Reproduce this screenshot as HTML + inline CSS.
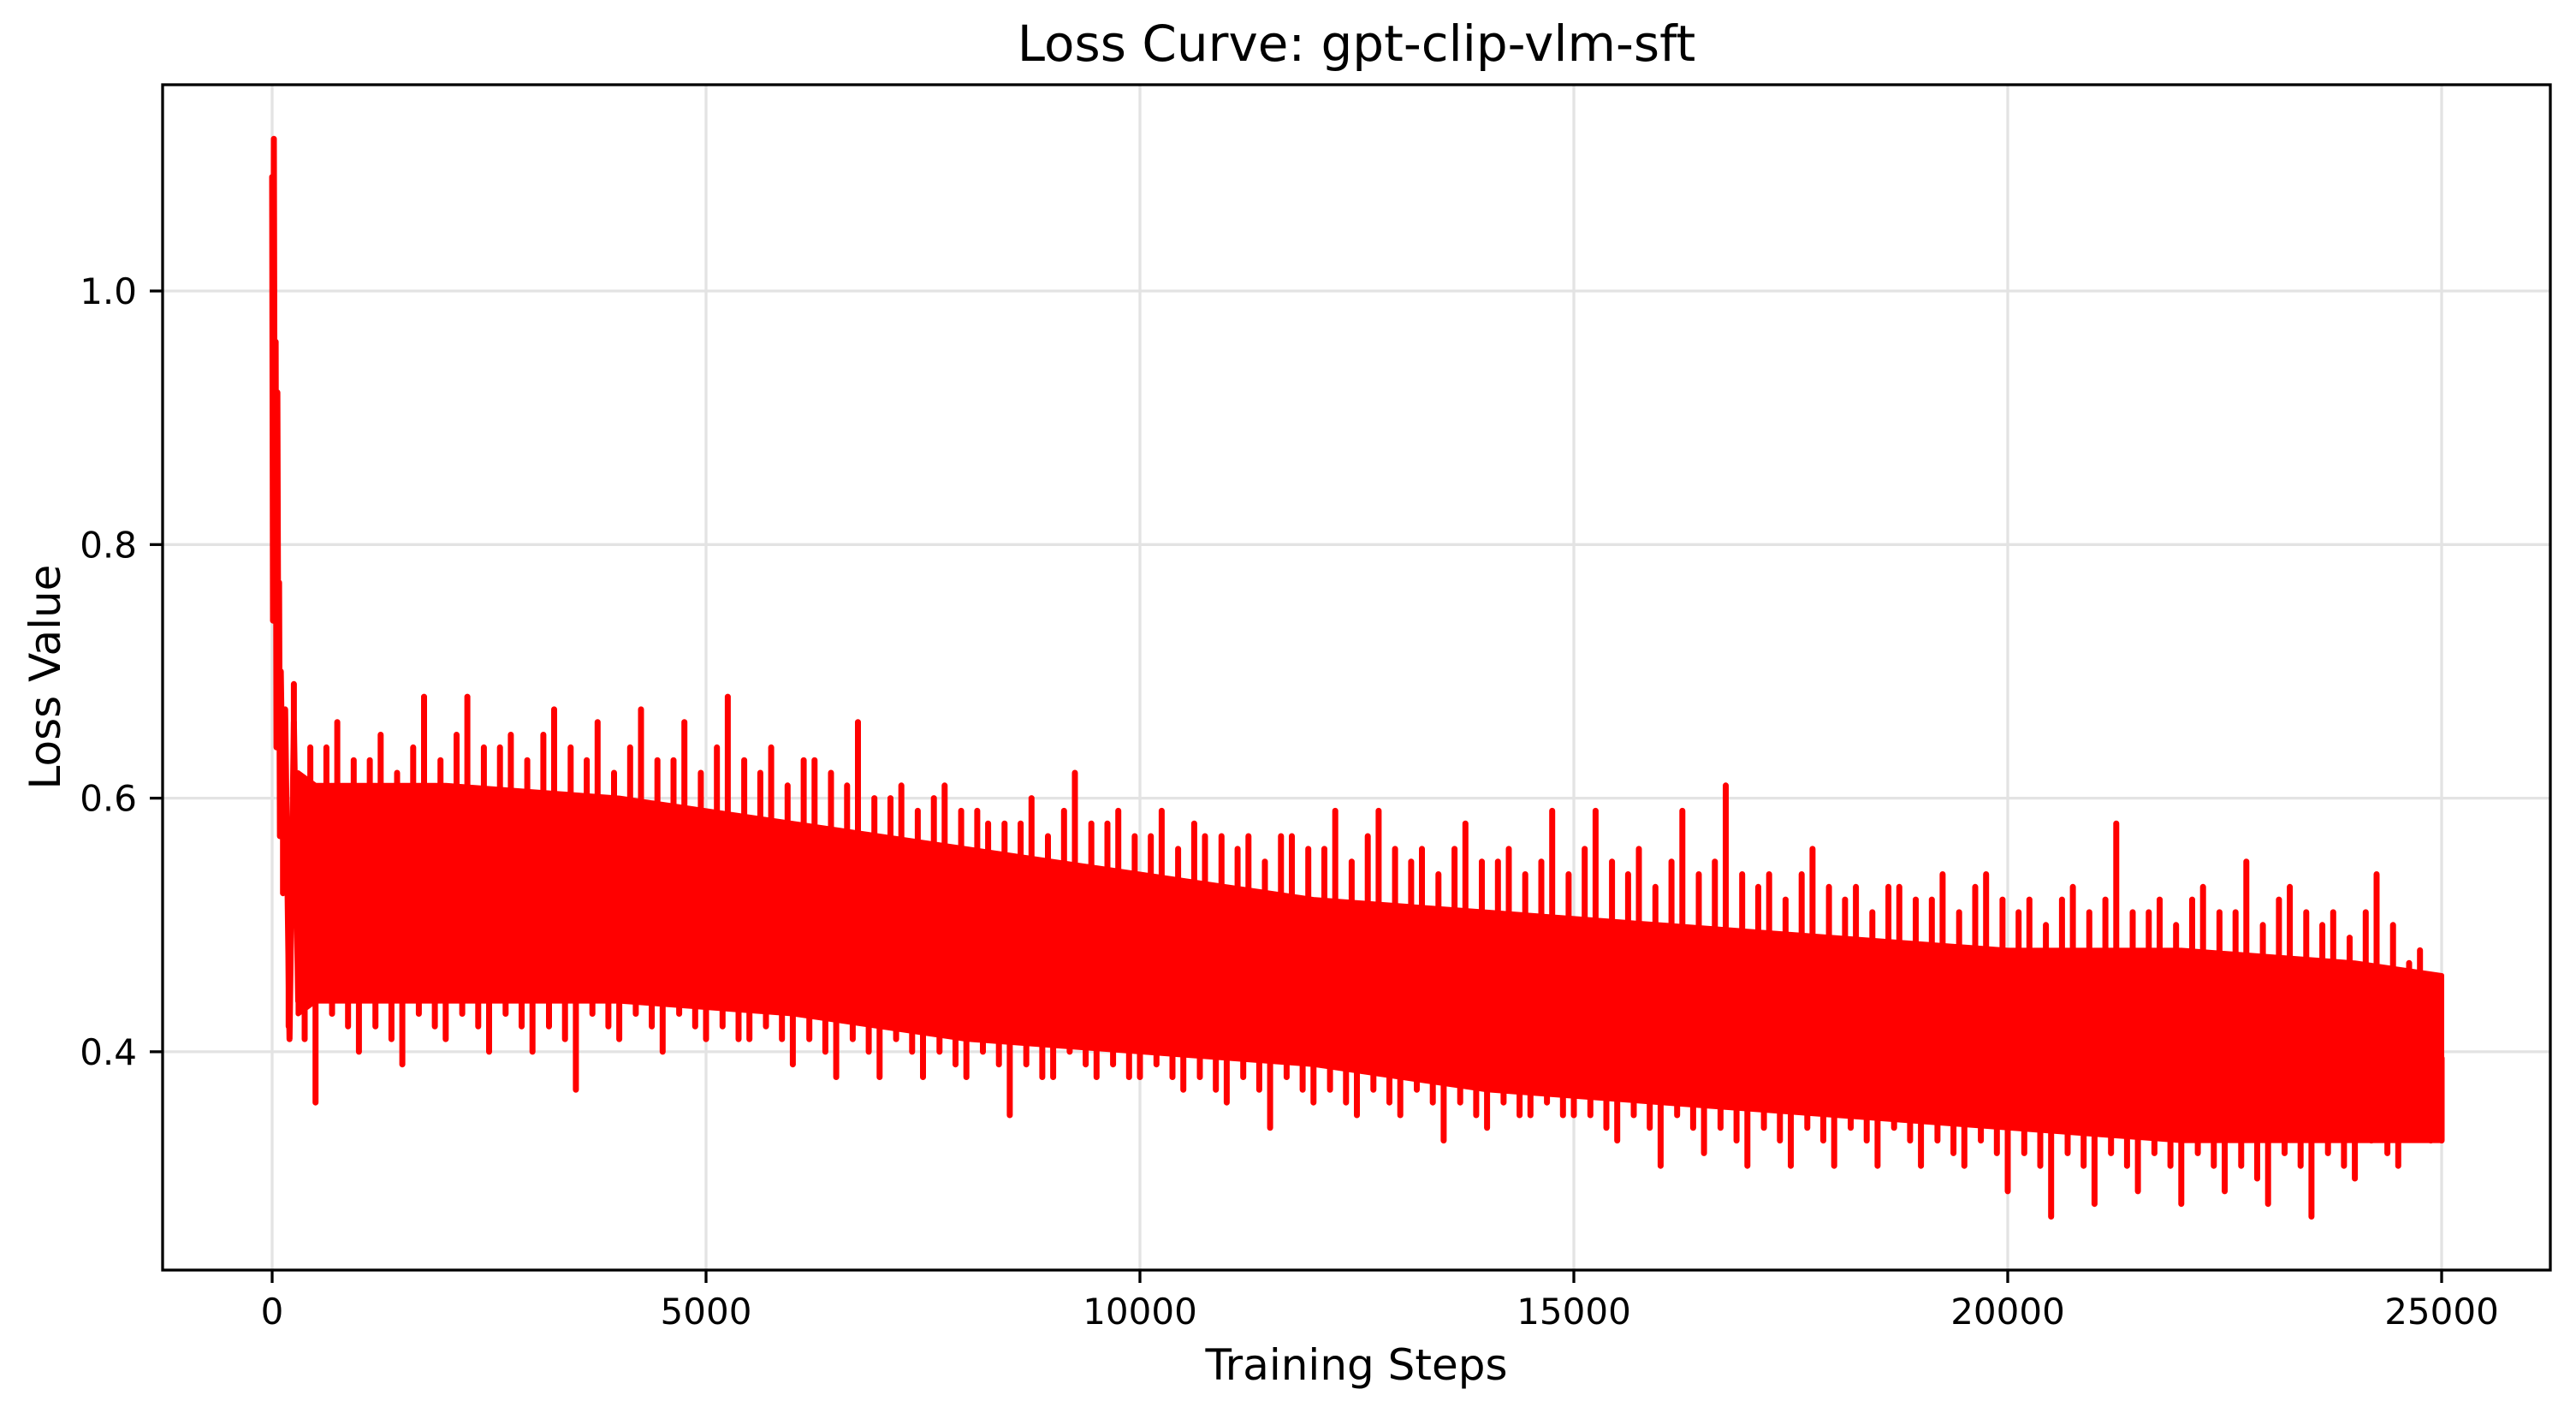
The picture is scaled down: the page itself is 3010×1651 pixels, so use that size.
<!DOCTYPE html>
<html><head><meta charset="utf-8"><style>
html,body{margin:0;padding:0;background:#fff;}
svg{display:block;font-family:"DejaVu Sans","Liberation Sans",sans-serif;}
</style></head><body>
<svg id="chart" width="3010" height="1651" viewBox="0 0 3010 1651" xmlns="http://www.w3.org/2000/svg">
<rect x="0" y="0" width="3010" height="1651" fill="#fff"/>
<g id="grid"></g>
<g id="series"></g>
<rect x="190" y="99" width="2790" height="1385" fill="none" stroke="#000" stroke-width="3.3"/>
<g id="axes"></g>
<text x="1585" y="71" font-size="58" text-anchor="middle">Loss Curve: gpt-clip-vlm-sft</text>
<text x="1585" y="1612" font-size="50" text-anchor="middle">Training Steps</text>
<text x="0" y="0" font-size="50" text-anchor="middle" transform="translate(70,791) rotate(-90)">Loss Value</text>
</svg>
<script>
const xTicks = [0, 5000, 10000, 15000, 20000, 25000];
const yTicks = [0.4, 0.6, 0.8, 1.0];
const yTickLabels = ["0.4", "0.6", "0.8", "1.0"];
const warmSteps = [0, 10, 20, 30, 40, 50, 60, 70, 80, 90, 100, 120, 150, 200, 250, 300];
const warmLoss = [1.09, 0.74, 1.12, 0.82, 0.96, 0.64, 0.92, 0.70, 0.77, 0.57, 0.70, 0.60, 0.67, 0.41, 0.66, 0.44];
const bandSteps = [300, 500, 2000, 4000, 6000, 8000, 10000, 12000, 14000, 16000, 18000, 20000, 22000, 24000, 25000];
const bandHigh = [0.62, 0.61, 0.61, 0.60, 0.58, 0.56, 0.54, 0.52, 0.51, 0.50, 0.49, 0.48, 0.48, 0.47, 0.46];
const bandLow = [0.43, 0.44, 0.44, 0.44, 0.43, 0.41, 0.40, 0.39, 0.37, 0.36, 0.35, 0.34, 0.33, 0.33, 0.33];
const spikeSteps = [500,1000,1500,2000,2500,3000,3500,4000,4500,5000,5500,6000,6500,7000,7500,8000,8500,9000,9500,10000,10500,11000,11500,12000,12500,13000,13500,14000,14500,15000,15500,16000,16500,17000,17500,18000,18500,19000,19500,20000,20500,21000,21500,22000,22500,23000,23500,24000,24500,25000];
const spikeHigh = [0.69,0.66,0.65,0.68,0.68,0.65,0.67,0.66,0.67,0.66,0.68,0.64,0.63,0.66,0.61,0.61,0.58,0.60,0.62,0.59,0.59,0.57,0.57,0.57,0.59,0.59,0.56,0.58,0.56,0.59,0.59,0.56,0.59,0.61,0.54,0.56,0.53,0.53,0.54,0.54,0.52,0.53,0.58,0.52,0.53,0.55,0.53,0.51,0.54,0.48];
const spikeLow = [0.36,0.40,0.39,0.41,0.40,0.40,0.37,0.41,0.40,0.41,0.41,0.39,0.38,0.38,0.38,0.38,0.35,0.38,0.38,0.38,0.37,0.36,0.34,0.36,0.35,0.35,0.33,0.34,0.35,0.35,0.33,0.31,0.32,0.31,0.31,0.31,0.31,0.31,0.31,0.29,0.27,0.28,0.29,0.28,0.29,0.28,0.27,0.30,0.31,0.33];
const spikeHigh2 = [0.65,0.64,0.63,0.64,0.65,0.64,0.65,0.63,0.64,0.63,0.64,0.62,0.63,0.61,0.60,0.60,0.59,0.58,0.59,0.58,0.57,0.58,0.56,0.57,0.56,0.57,0.55,0.56,0.55,0.55,0.56,0.54,0.55,0.55,0.53,0.54,0.52,0.53,0.52,0.53,0.51,0.52,0.52,0.51,0.52,0.51,0.52,0.50,0.51,0.47];
const spikeLow2 = [0.41,0.42,0.41,0.42,0.42,0.42,0.41,0.42,0.42,0.42,0.41,0.41,0.40,0.40,0.40,0.39,0.39,0.38,0.39,0.38,0.38,0.37,0.37,0.37,0.36,0.36,0.36,0.35,0.35,0.35,0.34,0.34,0.34,0.33,0.33,0.33,0.33,0.33,0.32,0.32,0.31,0.31,0.31,0.31,0.31,0.30,0.31,0.31,0.32,0.33];

const NS = "http://www.w3.org/2000/svg";
const X0 = 318, XPER = 2535 / 25000;
const Y1 = 340, YPER = 1481.5;
function xs(v){ return X0 + v * XPER; }
function ys(v){ return Y1 + (1.0 - v) * YPER; }
function mk(tag, attrs, parent){ const e = document.createElementNS(NS, tag); for (const k in attrs) e.setAttribute(k, attrs[k]); parent.appendChild(e); return e; }

const grid = document.getElementById('grid');
const axes = document.getElementById('axes');
const series = document.getElementById('series');

xTicks.forEach(t => {
  const gl = mk('line', {x1: xs(t), x2: xs(t), y1: 99, y2: 1484, stroke: '#e3e3e3', 'stroke-width': 3.3}, grid);
  
  
  const tk = mk('line', {x1: xs(t), x2: xs(t), y1: 1484, y2: 1499, stroke: '#000', 'stroke-width': 3.3}, axes);
  
  
  const tx = mk('text', {x: xs(t), y: 1547, 'font-size': 42, 'text-anchor': 'middle'}, axes);
  tx.textContent = String(t);
  
  
});
yTicks.forEach((t, i) => {
  const gl = mk('line', {x1: 190, x2: 2980, y1: ys(t), y2: ys(t), stroke: '#e3e3e3', 'stroke-width': 3.3}, grid);
  
  
  const tk = mk('line', {x1: 175, x2: 190, y1: ys(t), y2: ys(t), stroke: '#000', 'stroke-width': 3.3}, axes);
  
  
  const tx = mk('text', {x: 160, y: ys(t) + 15, 'font-size': 42, 'text-anchor': 'end'}, axes);
  tx.textContent = yTickLabels[i];
  
  
});

let d = '';
bandSteps.forEach((s, i) => { d += (i ? 'L' : 'M') + xs(s).toFixed(1) + ' ' + ys(bandHigh[i]).toFixed(1); });
for (let i = bandSteps.length - 1; i >= 0; i--) d += 'L' + xs(bandSteps[i]).toFixed(1) + ' ' + ys(bandLow[i]).toFixed(1);
d += 'Z';
const band = mk('path', {d: d, fill: '#ff0000', stroke: '#ff0000', 'stroke-width': 6, 'stroke-linejoin': 'round'}, series);



function bandMid(s){
  for (let i = 1; i < bandSteps.length; i++) {
    if (s <= bandSteps[i]) { const t = (s - bandSteps[i-1]) / (bandSteps[i] - bandSteps[i-1]); return ((bandHigh[i-1] + t * (bandHigh[i] - bandHigh[i-1])) + (bandLow[i-1] + t * (bandLow[i] - bandLow[i-1]))) / 2; }
  }
  return (bandHigh[bandHigh.length-1] + bandLow[bandLow.length-1]) / 2;
}

let w = '';
warmSteps.forEach((s, i) => { w += (i ? 'L' : 'M') + xs(s).toFixed(1) + ' ' + ys(warmLoss[i]).toFixed(1); });
const warm = mk('path', {d: w, fill: 'none', stroke: '#ff0000', 'stroke-width': 7, 'stroke-linejoin': 'round', 'stroke-linecap': 'round'}, series);



function seg(step, val){
  const x = xs(step).toFixed(1);
  return 'M' + x + ' ' + ys(val).toFixed(1) + 'L' + x + ' ' + ys(bandMid(step)).toFixed(1);
}
let sp = '';
spikeSteps.forEach((s, i) => {
  sp += seg(s - 250, spikeHigh[i]);
  sp += seg(s, spikeLow[i]);
  sp += seg(s - 375, spikeHigh2[i]);
  sp += seg(s - 125, spikeLow2[i]);
  sp += seg(s - 60, spikeHigh2[i] - 0.01);
  sp += seg(s - 310, spikeLow2[i] + 0.01);
});
const spikes = mk('path', {d: sp, fill: 'none', stroke: '#ff0000', 'stroke-width': 7, 'stroke-linecap': 'round'}, series);


</script>
</body></html>
